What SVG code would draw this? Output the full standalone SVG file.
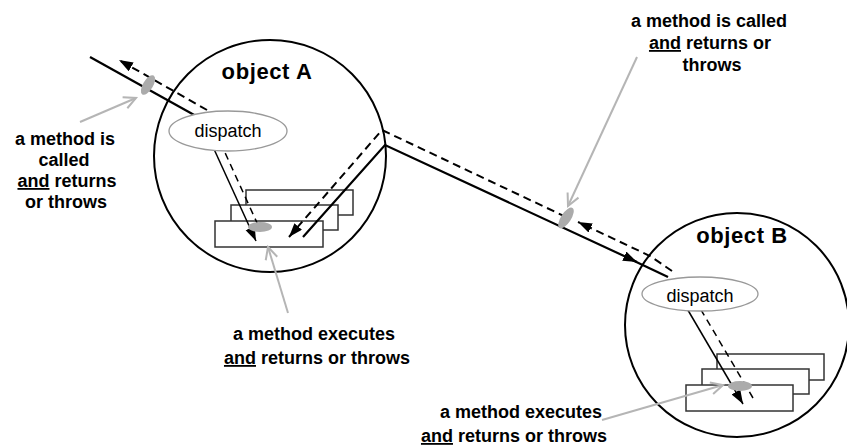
<svg xmlns="http://www.w3.org/2000/svg" width="847" height="446" viewBox="0 0 847 446">
<defs>
<style>
.obj{fill:none;stroke:#000;stroke-width:2}
.box{fill:#fff;stroke:#333;stroke-width:1.5}
.disp{fill:#fff;stroke:#999;stroke-width:1.3}
.sol{fill:none;stroke:#000;stroke-width:2.2}
.soli{fill:none;stroke:#000;stroke-width:1.5}
.dash{fill:none;stroke:#000;stroke-width:2;stroke-dasharray:8 5}
.dashi{fill:none;stroke:#000;stroke-width:1.5;stroke-dasharray:7 5}
.oval{fill:#ababab}
.note{fill:none;stroke:#b5b5b5;stroke-width:2}
.lbl{font-family:"Liberation Sans",Arial,sans-serif;font-weight:bold;font-size:18px;fill:#000;text-anchor:middle}
.title{font-family:"Liberation Sans",Arial,sans-serif;font-weight:bold;font-size:22px;letter-spacing:0.6px;fill:#000;text-anchor:middle}
.dt{font-family:"Liberation Sans",Arial,sans-serif;font-size:18px;fill:#000;text-anchor:middle}
</style>
<marker id="ah" markerUnits="userSpaceOnUse" markerWidth="16" markerHeight="12" refX="14" refY="5" orient="auto">
<path d="M0,0 L14,5 L0,10 z" fill="#000"/>
</marker>
<marker id="gh" markerUnits="userSpaceOnUse" markerWidth="16" markerHeight="16" refX="13" refY="7" orient="auto">
<path d="M1,1 L13,7 L1,13" fill="none" stroke="#b5b5b5" stroke-width="2"/>
</marker>
</defs>
<rect width="847" height="446" fill="#fff"/>

<g id="objectA">
<circle class="obj" cx="270" cy="156" r="116"/>
<text class="title" x="267" y="79">object A</text>
</g>
<g id="objectB">
<circle class="obj" cx="737" cy="325" r="112"/>
<text class="title" x="742" y="243">object B</text>
</g>

<g id="methodsA">
<rect class="box" x="246" y="190" width="107" height="25"/>
<rect class="box" x="231" y="205" width="107" height="25"/>
<rect class="box" x="215" y="221" width="108" height="26"/>
</g>
<g id="methodsB">
<rect class="box" x="717" y="354" width="107" height="26"/>
<rect class="box" x="702" y="369" width="107" height="25"/>
<rect class="box" x="686" y="385" width="107" height="26"/>
</g>

<g id="connectors">
<path class="sol" d="M90,57 L205,121"/>
<path class="soli" d="M208,136 L256,241" marker-end="url(#ah)"/>
<path class="dashi" d="M258,225 L222,146"/>
<path class="dash" d="M207,110 L119,60" marker-end="url(#ah)"/>
<path class="sol" d="M303,237 L385,145 L637,262" marker-end="url(#ah)"/>
<path class="sol" d="M630,259 L668,277"/>
<path class="soli" d="M682,300 L743,404" marker-end="url(#ah)"/>
<path class="dashi" d="M753,398 L697,303"/>
<path class="dash" d="M672,271 L650,256 L578,222" marker-end="url(#ah)"/>
<path class="dash" d="M566,217 L382,130 L289,237" marker-end="url(#ah)"/>
</g>

<g id="dispatchA">
<ellipse class="disp" cx="228" cy="131" rx="59" ry="20"/>
<text class="dt" x="228" y="137">dispatch</text>
</g>
<g id="dispatchB">
<ellipse class="disp" cx="700" cy="294" rx="58" ry="17"/>
<text class="dt" x="700" y="302">dispatch</text>
</g>

<g id="markers">
<ellipse class="oval" cx="148" cy="85" rx="5" ry="11" transform="rotate(31 148 85)"/>
<ellipse class="oval" cx="566" cy="218" rx="5" ry="12" transform="rotate(33 566 218)"/>
<ellipse class="oval" cx="260" cy="227" rx="12" ry="5"/>
<ellipse class="oval" cx="740" cy="386" rx="12" ry="5"/>
</g>

<g id="label-left">
<path class="note" d="M80,122 L136,98" marker-end="url(#gh)"/>
<text class="lbl" x="65" y="145">a method is</text>
<text class="lbl" x="64" y="166">called</text>
<text class="lbl" x="67" y="187"><tspan text-decoration="underline">and</tspan> returns</text>
<text class="lbl" x="66" y="208">or throws</text>
</g>
<g id="label-top">
<path class="note" d="M637,57 L568,206" marker-end="url(#gh)"/>
<text class="lbl" x="709" y="27">a method is called</text>
<text class="lbl" x="710" y="49"><tspan text-decoration="underline">and</tspan> returns or</text>
<text class="lbl" x="712" y="71">throws</text>
</g>
<g id="label-bottomA">
<path class="note" d="M288,313 L268,247" marker-end="url(#gh)"/>
<text class="lbl" x="314" y="340">a method executes</text>
<text class="lbl" x="317" y="364"><tspan text-decoration="underline">and</tspan> returns or throws</text>
</g>
<g id="label-bottomB">
<path class="note" d="M602,420 L723,385" marker-end="url(#gh)"/>
<text class="lbl" x="521" y="418">a method executes</text>
<text class="lbl" x="514" y="442"><tspan text-decoration="underline">and</tspan> returns or throws</text>
</g>
</svg>
